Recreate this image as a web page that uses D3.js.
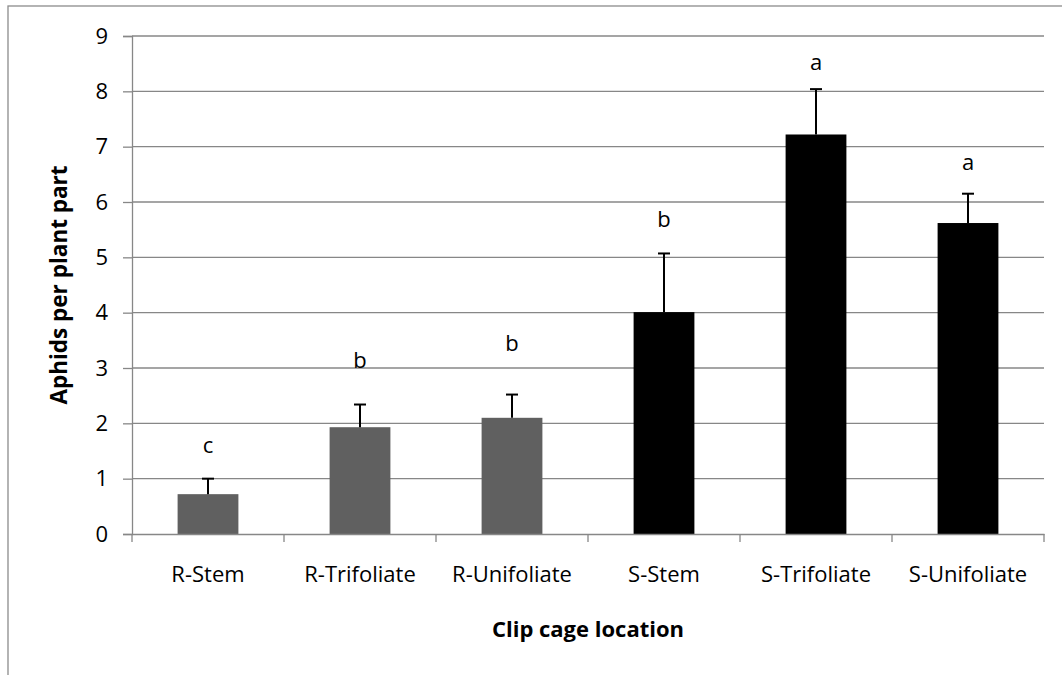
<!DOCTYPE html>
<html><head><meta charset="utf-8">
<script src="https://cdn.jsdelivr.net/npm/d3@7"></script>
<style>body{margin:0;background:#fff}svg{display:block}</style>
</head><body>
<script>
const categories = ["R-Stem","R-Trifoliate","R-Unifoliate","S-Stem","S-Trifoliate","S-Unifoliate"];
const means = [0.72,1.93,2.10,4.01,7.22,5.62];
const errTops = [1.00,2.34,2.52,5.07,8.04,6.15];
const letters = ["c","b","b","b","a","a"];
const letterPos = [1.61,3.14,3.45,5.69,8.53,6.71];
const groups = ["R","R","R","S","S","S"];
const yTicks = [0,1,2,3,4,5,6,7,8,9];

const W=1062,H=675;
const svg=d3.select("body").append("svg").attr("width",W).attr("height",H);
const font="'Open Sans', sans-serif";
const grid="#878787";

svg.append("rect").attr("x",8).attr("y",6).attr("width",W).attr("height",H)
  .attr("fill","none").attr("stroke","#8c8c8c").attr("stroke-width",1.3);

const pL=132,pR=1044,pT=36,pB=534;
const x=d3.scaleBand().domain(categories).range([pL,pR]).paddingInner(0.6).paddingOuter(0.3);
const xb=d3.scaleBand().domain(categories).range([pL,pR]);
const y=d3.scaleLinear().domain([0,9]).range([pB,pT]);
const color=d3.scaleOrdinal().domain(["R","S"]).range(["#606060","#000000"]);

// gridlines
svg.append("g").selectAll("line").data(yTicks.filter(d=>d>0)).join("line")
  .attr("x1",pL).attr("x2",pR).attr("y1",d=>y(d)).attr("y2",d=>y(d))
  .attr("stroke",grid).attr("stroke-width",1.3);

// y axis
const ya=svg.append("g").attr("transform",`translate(${pL},0)`)
  .call(d3.axisLeft(y).tickValues(yTicks).tickSize(9).tickPadding(15).tickFormat(d3.format("d")));
ya.select(".domain").attr("stroke",grid).attr("stroke-width",1.3);
ya.selectAll(".tick line").attr("stroke",grid).attr("stroke-width",1.3);
ya.selectAll("text").attr("font-family",font).attr("font-size",22).attr("fill","#000");

// bars
svg.append("g").selectAll("rect").data(categories).join("rect")
  .attr("x",d=>x(d)).attr("width",x.bandwidth())
  .attr("y",(d,i)=>y(means[i])).attr("height",(d,i)=>y(0)-y(means[i]))
  .attr("fill",(d,i)=>color(groups[i]));

// error bars
const eb=svg.append("g").attr("stroke","#000").attr("stroke-width",2);
eb.selectAll("line.v").data(categories).join("line").attr("class","v")
  .attr("x1",d=>x(d)+x.bandwidth()/2).attr("x2",d=>x(d)+x.bandwidth()/2)
  .attr("y1",(d,i)=>y(means[i])).attr("y2",(d,i)=>y(errTops[i]));
eb.selectAll("line.c").data(categories).join("line").attr("class","c")
  .attr("x1",d=>x(d)+x.bandwidth()/2-6).attr("x2",d=>x(d)+x.bandwidth()/2+6)
  .attr("y1",(d,i)=>y(errTops[i])).attr("y2",(d,i)=>y(errTops[i]));

// letters
svg.append("g").selectAll("text").data(categories).join("text")
  .attr("x",d=>x(d)+x.bandwidth()/2).attr("y",(d,i)=>y(letterPos[i]))
  .attr("dy","0.35em").attr("text-anchor","middle")
  .attr("font-family",font).attr("font-size",22).text((d,i)=>letters[i]);

// x axis
const xa=svg.append("g").attr("transform",`translate(0,${pB})`)
  .call(d3.axisBottom(xb).tickSize(0).tickPadding(32));
xa.select(".domain").attr("stroke",grid).attr("stroke-width",1.3);
xa.selectAll("text").attr("font-family",font).attr("font-size",22).attr("fill","#000");
svg.append("g").selectAll("line").data(d3.range(categories.length+1)).join("line")
  .attr("x1",i=>pL+i*xb.step()).attr("x2",i=>pL+i*xb.step())
  .attr("y1",pB).attr("y2",pB+8).attr("stroke",grid).attr("stroke-width",1.3);

// titles
svg.append("text").attr("x",(pL+pR)/2).attr("y",629).attr("dy","0.35em")
  .attr("text-anchor","middle").attr("font-family",font).attr("font-weight","bold")
  .attr("font-size",22).text("Clip cage location");
svg.append("text").attr("transform",`translate(59,${(pT+pB)/2}) rotate(-90)`)
  .attr("dy","0.35em").attr("text-anchor","middle").attr("font-family",font)
  .attr("font-weight","bold").attr("font-size",22.5).text("Aphids per plant part");
</script>
</body></html>
